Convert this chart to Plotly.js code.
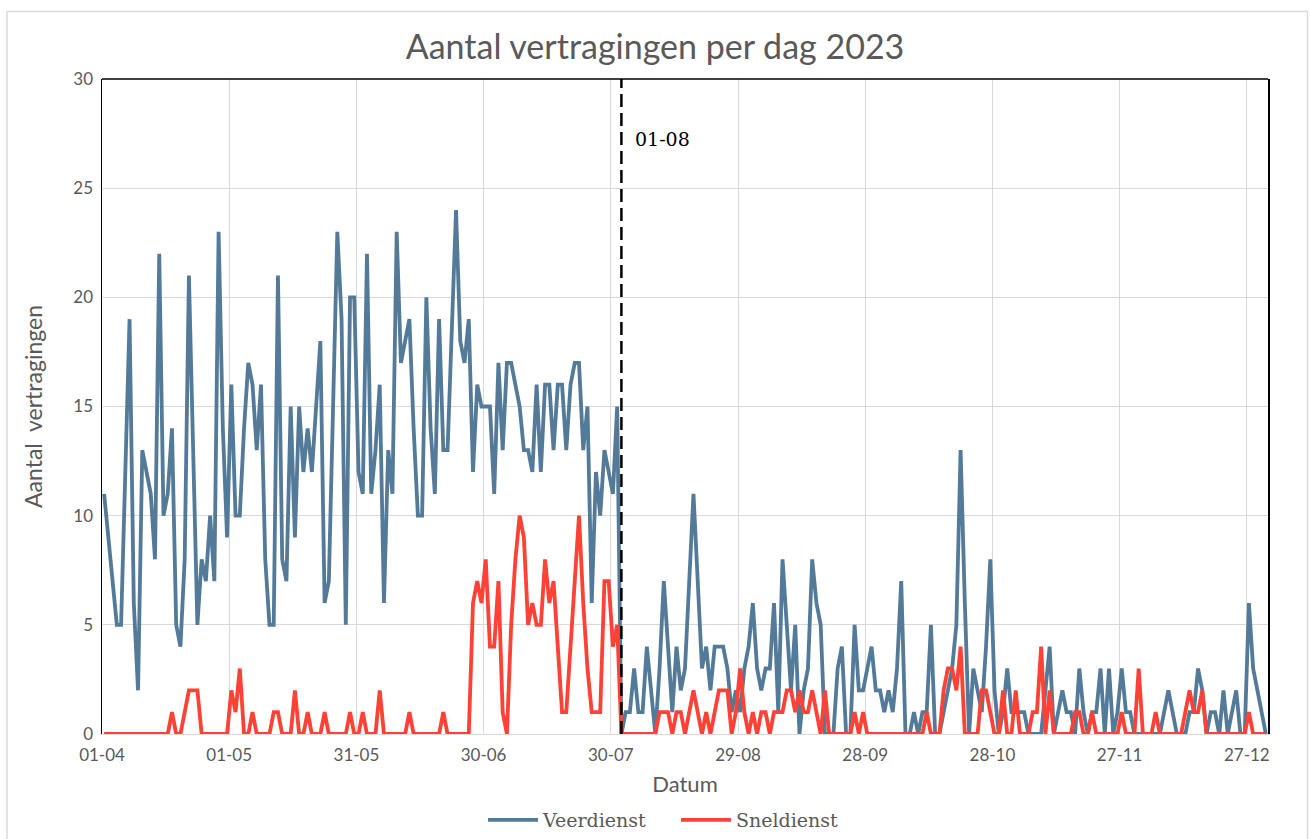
<!DOCTYPE html>
<html>
<head>
<meta charset="utf-8">
<script src="https://cdn.plot.ly/plotly-3.0.1.min.js"></script>
<style>
  html, body { margin: 0; padding: 0; background: #ffffff; }
  #chart { width: 1310px; height: 839px; }
</style>
</head>
<body>
<div id="chart"></div>
<script>
// ---- data ----
const startDate = '2023-04-01';
const markerDate = '2023-08-01';
const markerLabel = '01-08';

const veerdienst = [
  11,9,7,5,5,12,19,6,2,13,
  12,11,8,22,10,11,14,5,4,8,
  21,13,5,8,7,10,7,23,14,9,
  16,10,10,14,17,16,13,16,8,5,
  5,21,8,7,15,9,15,12,14,12,
  15,18,6,7,15,23,19,5,20,20,
  12,11,22,11,13,16,6,13,11,23,
  17,18,19,14,10,10,20,14,11,19,
  13,13,18,24,18,17,19,12,16,15,
  15,15,11,17,13,17,17,16,15,13,
  13,12,16,12,16,16,13,16,16,13,
  16,17,17,13,15,6,12,10,13,12,
  11,15,0,1,1,3,1,1,4,2,
  0,3,7,4,1,4,2,3,7,11,
  7,3,4,2,4,4,4,3,1,2,
  1,3,4,6,3,2,3,3,6,1,
  8,5,2,5,0,2,3,8,6,5,
  0,0,0,3,4,0,0,5,2,2,
  3,4,2,2,1,2,1,3,7,0,
  0,1,0,1,1,5,0,0,1,2,
  3,5,13,6,0,3,2,1,4,8,
  2,0,1,3,1,1,1,1,0,0,
  0,0,2,4,0,1,2,1,1,0,
  3,1,0,1,1,3,0,3,0,1,
  3,1,1,0,0,0,0,0,0,0,
  1,2,1,0,0,0,1,1,3,2,
  0,1,1,0,2,0,1,2,0,0,
  6,3,2,1,0
];

const sneldienst = [
  0,0,0,0,0,0,0,0,0,0,
  0,0,0,0,0,0,1,0,0,1,
  2,2,2,0,0,0,0,0,0,0,
  2,1,3,0,0,1,0,0,0,0,
  1,1,0,0,0,2,0,0,1,0,
  0,0,1,0,0,0,0,0,1,0,
  0,1,0,0,0,2,0,0,0,0,
  0,0,1,0,0,0,0,0,0,0,
  1,0,0,0,0,0,0,6,7,6,
  8,4,4,7,1,0,5,8,10,9,
  5,6,5,5,8,6,7,4,1,1,
  4,7,10,6,3,1,1,1,7,7,
  4,5,0,0,0,0,0,0,0,0,
  0,1,1,1,0,1,1,0,1,2,
  1,0,1,0,1,2,2,2,0,1,
  3,1,0,1,0,1,1,0,1,1,
  1,2,2,1,2,1,1,2,1,0,
  2,0,0,0,0,0,0,1,0,1,
  0,0,0,0,0,0,0,0,0,0,
  0,0,0,0,1,0,0,0,2,3,
  3,2,4,0,0,0,0,2,2,1,
  0,0,2,0,0,2,0,0,0,1,
  1,4,0,2,0,0,0,0,0,1,
  1,0,0,1,0,0,0,0,0,0,
  1,0,0,0,3,0,0,0,1,0,
  0,0,0,0,0,1,2,1,1,2,
  0,0,0,0,0,0,0,0,0,0,
  1,0,0,0,0
];

const tickDates = ['2023-04-01','2023-05-01','2023-05-31','2023-06-30','2023-07-30',
                   '2023-08-29','2023-09-28','2023-10-28','2023-11-27','2023-12-27'];
const tickLabels = ['01-04','01-05','31-05','30-06','30-07','29-08','28-09','28-10','27-11','27-12'];

// ---- build day list (one entry per day, plotted mid-day like Excel's date axis) ----
function dayList(start, n) {
  const out = [];
  const base = new Date(start + 'T00:00:00Z');
  for (let i = 0; i < n; i++) {
    const d = new Date(base.getTime() + i * 86400000);
    out.push(d.toISOString().slice(0, 10) + ' 12:00');
  }
  return out;
}
const days = dayList(startDate, veerdienst.length);

const grey = '#595959';
const sans = 'Lato, "Open Sans", sans-serif';
const serif = '"DejaVu Serif", "Liberation Serif", serif';

const traces = [
  {
    x: days, y: veerdienst, type: 'scatter', mode: 'lines', name: 'Veerdienst',
    line: { color: '#547A99', width: 3.8, shape: 'linear' }
  },
  {
    x: days, y: sneldienst, type: 'scatter', mode: 'lines', name: 'Sneldienst',
    line: { color: '#FF4136', width: 3.8, shape: 'linear' }
  }
];

// paper helpers
const L = 102, R = 1268, T = 79, B = 734;
const px2x = p => (p - L) / (R - L);
const py2y = p => (B - p) / (B - T);

const layout = {
  width: 1310, height: 839,
  margin: { l: L, r: 1310 - R, t: T, b: 839 - B, pad: 0, autoexpand: false },
  paper_bgcolor: '#ffffff', plot_bgcolor: '#ffffff',
  showlegend: true,
  title: {
    text: 'Aantal vertragingen per dag 2023',
    font: { family: sans, size: 34, color: grey },
    x: 0.5, xanchor: 'center', y: 1 - 47 / 839, yanchor: 'middle'
  },
  xaxis: {
    type: 'date',
    range: ['2023-04-01', '2024-01-01'],
    tickmode: 'array', tickvals: tickDates, ticktext: tickLabels,
    showgrid: true, gridcolor: '#d9d9d9', gridwidth: 1,
    showline: true, linecolor: '#d9d9d9', linewidth: 1,
    ticks: '', zeroline: false, ticklabelstandoff: 6,
    tickfont: { family: sans, size: 17, color: grey },
    title: { text: 'Datum', font: { family: sans, size: 22, color: grey }, standoff: 12 }
  },
  yaxis: {
    range: [0, 30], tick0: 0, dtick: 5,
    showgrid: true, gridcolor: '#d9d9d9', gridwidth: 1,
    showline: true, mirror: true, linecolor: '#000000', linewidth: 1.5,
    ticks: '', zeroline: false, ticklabelstandoff: 4,
    tickfont: { family: sans, size: 17, color: grey },
    title: { text: 'Aantal\u00a0 vertragingen', font: { family: sans, size: 23, color: grey }, standoff: 24 }
  },
  legend: {
    orientation: 'h', x: px2x(483), xanchor: 'left', y: py2y(820), yanchor: 'middle',
    font: { family: serif, size: 19, color: grey },
    itemwidth: 50, entrywidth: 128, entrywidthmode: 'pixels', bgcolor: 'rgba(0,0,0,0)'
  },
  shapes: [
    // top frame line of plot area
    { type: 'line', xref: 'paper', yref: 'paper', x0: 0, x1: 1, y0: 1, y1: 1,
      line: { color: '#000000', width: 1.5 } },
    // vertical dashed marker line
    { type: 'line', xref: 'x', yref: 'paper', x0: markerDate + ' 12:00', x1: markerDate + ' 12:00', y0: 0, y1: 1,
      line: { color: '#000000', width: 2.5, dash: '13px,6px' } },
    // outer chart border
    { type: 'rect', xref: 'paper', yref: 'paper', layer: 'below',
      x0: px2x(7), x1: px2x(1307.5), y0: py2y(850), y1: py2y(11.5),
      line: { color: '#d9d9d9', width: 1.5 }, fillcolor: 'rgba(0,0,0,0)' }
  ],
  annotations: [
    { xref: 'x', yref: 'y', x: markerDate + ' 12:00', y: 27.25, text: markerLabel,
      showarrow: false, xanchor: 'left', yanchor: 'middle', xshift: 12,
      font: { family: serif, size: 19, color: '#000000' } }
  ]
};

Plotly.newPlot('chart', traces, layout, { displayModeBar: false, staticPlot: true });
</script>
</body>
</html>
